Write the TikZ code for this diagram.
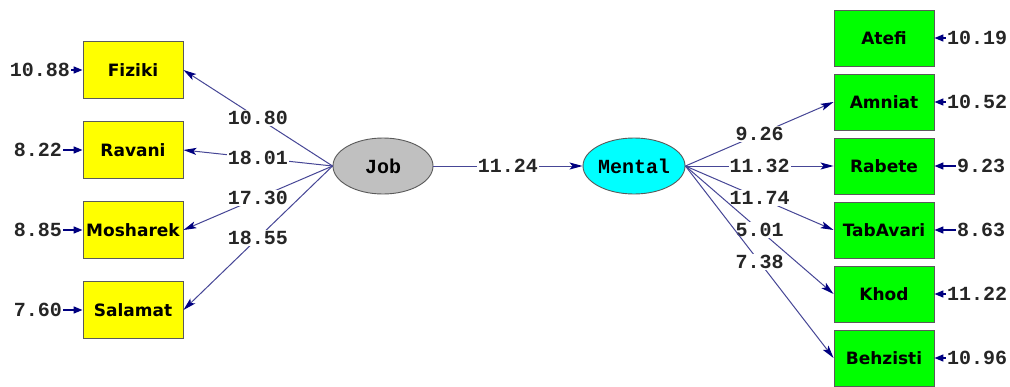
\documentclass[tikz,border=0pt]{standalone}
\usepackage{fontspec}
\setmainfont{DejaVu Sans}
\newfontfamily\numfont{Liberation Mono}
\usetikzlibrary{arrows.meta,shapes.geometric}
\definecolor{linec}{RGB}{70,70,150}
\definecolor{tipc}{RGB}{0,0,128}
\definecolor{boxline}{RGB}{90,90,90}
\definecolor{ycol}{RGB}{255,255,0}
\definecolor{gcol}{RGB}{0,255,0}
\definecolor{ccol}{RGB}{0,255,255}
\definecolor{jcol}{RGB}{192,192,192}
\begin{document}
\begin{tikzpicture}[x=1pt,y=-1pt,
 obs/.style={draw=boxline, line width=0.9pt, minimum width=100pt, minimum height=57pt, inner sep=0pt, font=\fontsize{17}{17}\selectfont\bfseries},
 yobs/.style={obs, fill=ycol},
 gobs/.style={obs, fill=gcol, minimum height=56pt},
 lat/.style={ellipse, draw=boxline, line width=0.9pt, minimum width=100pt, minimum height=56pt, inner sep=0pt, font=\numfont\fontsize{20}{20}\selectfont\bfseries},
 num/.style={font=\numfont\fontsize{20}{20}\selectfont\bfseries, text=black!85, inner sep=1pt},
 lab/.style={num, fill=white},
 conn/.style={draw=linec, line width=1pt, -{Stealth[length=13pt,width=7pt,inset=3pt,color=tipc]}},
 errarr/.style={draw=tipc, line width=1.6pt, -{Triangle[length=9pt,width=7pt,color=tipc]}}
]
\useasboundingbox (0,0) rectangle (1010,386);
\fill[white] (0,0) rectangle (1010,386);

% left observed
\node[yobs] (fiz) at (133,70) {Fiziki};
\node[yobs] (rav) at (133,150) {Ravani};
\node[yobs] (mos) at (133,230) {Mosharek};
\node[yobs] (sal) at (133,310) {Salamat};

% latent
\node[lat, fill=jcol] (job) at (383,166) {Job};
\node[lat, fill=ccol, minimum width=102pt] (men) at (634,166) {Mental};

% right observed
\node[gobs] (ate) at (884,38) {Atefi};
\node[gobs] (amn) at (884,102) {Amniat};
\node[gobs] (rab) at (884,166) {Rabete};
\node[gobs] (tab) at (884,230) {TabAvari};
\node[gobs] (kho) at (884,294) {Khod};
\node[gobs] (beh) at (884,358) {Behzisti};

% left error terms
\node[num] (efiz) at (40,70) {10.88};
\node[num] (erav) at (38,150) {8.22};
\node[num] (emos) at (38,230) {8.85};
\node[num] (esal) at (38,310) {7.60};
\draw[errarr] (efiz) -- (fiz);
\draw[errarr] (erav) -- (rav);
\draw[errarr] (emos) -- (mos);
\draw[errarr] (esal) -- (sal);

% right error terms
\node[num] (eate) at (977,38) {10.19};
\node[num] (eamn) at (977,102) {10.52};
\node[num] (erab) at (981,166) {9.23};
\node[num] (etab) at (981,230) {8.63};
\node[num] (ekho) at (977,294) {11.22};
\node[num] (ebeh) at (977,358) {10.96};
\draw[errarr] (eate) -- (ate);
\draw[errarr] (eamn) -- (amn);
\draw[errarr] (erab) -- (rab);
\draw[errarr] (etab) -- (tab);
\draw[errarr] (ekho) -- (kho);
\draw[errarr] (ebeh) -- (beh);

% Job loadings
\draw[conn] (job.west) -- node[lab] {10.80} (fiz.east);
\draw[conn] (job.west) -- node[lab] {18.01} (rav.east);
\draw[conn] (job.west) -- node[lab] {17.30} (mos.east);
\draw[conn] (job.west) -- node[lab] {18.55} (sal.east);

% structural path
\draw[conn] (job.east) -- node[lab] {11.24} (men.west);

% Mental loadings
\draw[conn] (men.east) -- node[lab] {9.26} (amn.west);
\draw[conn] (men.east) -- node[lab] {11.32} (rab.west);
\draw[conn] (men.east) -- node[lab] {11.74} (tab.west);
\draw[conn] (men.east) -- node[lab] {5.01} (kho.west);
\draw[conn] (men.east) -- node[lab] {7.38} (beh.west);
\end{tikzpicture}
\end{document}
